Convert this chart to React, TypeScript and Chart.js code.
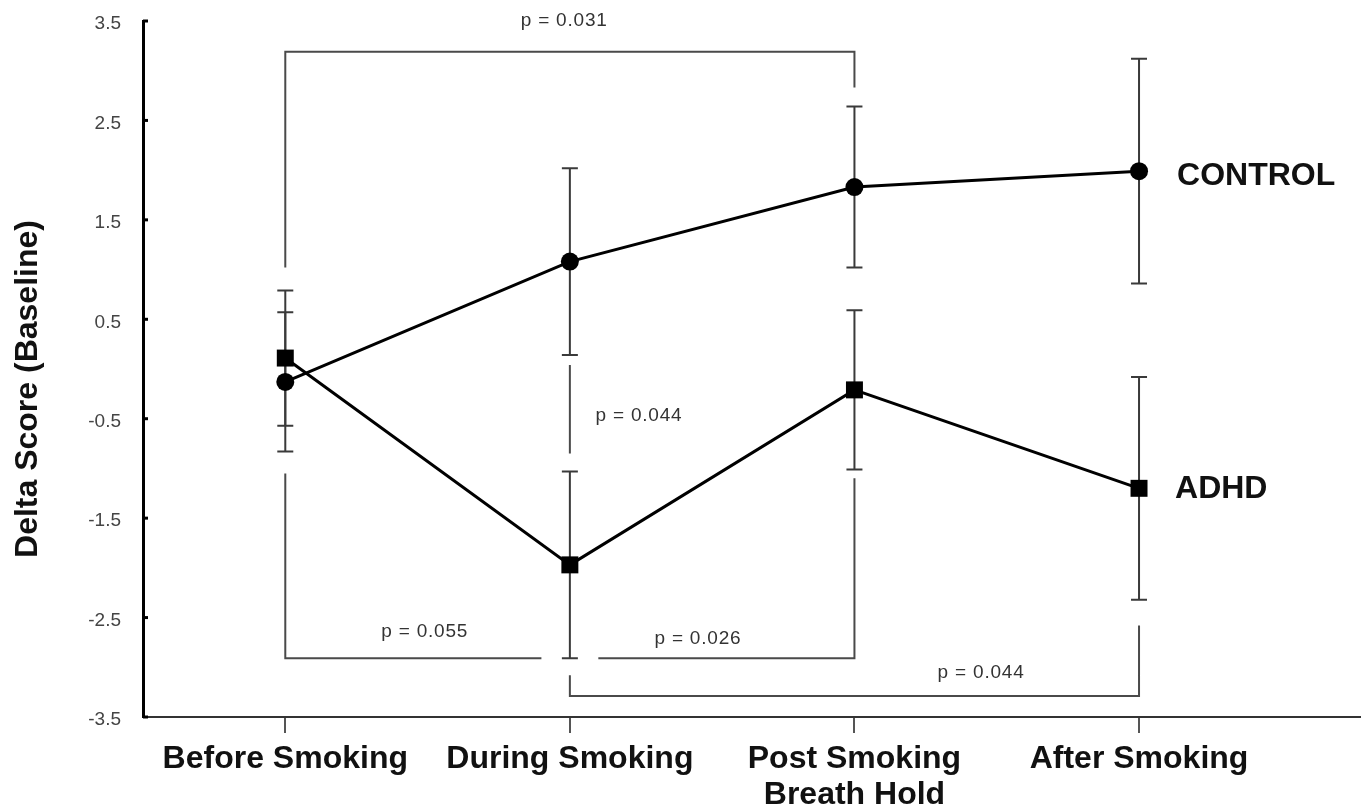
import React, { useEffect, useRef } from "react";
import { Chart, registerables } from "chart.js";

Chart.register(...registerables);

// ---- data ----
const categories: (string | string[])[] = [
  "Before Smoking",
  "During Smoking",
  ["Post Smoking", "Breath Hold"],
  "After Smoking",
];
const controlMean = [-0.13, 1.08, 1.83, 1.99];
const controlErr = [0.7, 0.94, 0.81, 1.13];
const adhdMean = [0.11, -1.97, -0.21, -1.2];
const adhdErr = [0.68, 0.94, 0.8, 1.12];
const yTicks = [-3.5, -2.5, -1.5, -0.5, 0.5, 1.5, 2.5, 3.5];
const seriesNames = ["CONTROL", "ADHD"];
const yTitle = "Delta Score (Baseline)";

// significance brackets, in data units (x = category index, y = score)
const bracketLabels = ["p = 0.031", "p = 0.055", "p = 0.026", "p = 0.044", "p = 0.044"];
const bracketPaths: number[][][] = [
  [[0, 1.02], [0, 3.19], [2, 3.19], [2, 2.83]],
  [[0, -1.05], [0, -2.91], [0.9, -2.91]],
  [[1.1, -2.91], [2, -2.91], [2, -1.1]],
  [[1, 0.04], [1, -0.85]],
  [[1, -3.08], [1, -3.29], [3, -3.29], [3, -2.58]],
];
const bracketTextAt: number[][] = [
  [0.98, 3.5],
  [0.49, -2.64],
  [1.45, -2.71],
  [1.09, -0.47],
  [2.445, -3.06],
];
const bracketTextAlign: CanvasTextAlign[] = ["center", "center", "center", "left", "center"];

const BOLD = "bold 32px 'Liberation Sans', Arial, sans-serif";
const SMALL = "19px 'Liberation Sans', Arial, sans-serif";

const overlay = {
  id: "overlay",
  beforeDatasetsDraw(chart: any) {
    const { ctx, scales } = chart;
    const x = scales.x;
    const y = scales.y;
    ctx.save();
    // error bars
    const groups: [number[], number[]][] = [
      [controlMean, controlErr],
      [adhdMean, adhdErr],
    ];
    ctx.strokeStyle = "#3a3a3a";
    ctx.lineWidth = 2;
    groups.forEach(([m, e]) => {
      m.forEach((v, i) => {
        const px = x.getPixelForValue(i);
        const top = y.getPixelForValue(v + e[i]);
        const bot = y.getPixelForValue(v - e[i]);
        ctx.beginPath();
        ctx.moveTo(px, top);
        ctx.lineTo(px, bot);
        ctx.moveTo(px - 8, top);
        ctx.lineTo(px + 8, top);
        ctx.moveTo(px - 8, bot);
        ctx.lineTo(px + 8, bot);
        ctx.stroke();
      });
    });
    // brackets
    ctx.strokeStyle = "#4a4a4a";
    ctx.lineWidth = 2;
    bracketPaths.forEach((path) => {
      ctx.beginPath();
      path.forEach(([vx, vy], k) => {
        const px = x.getPixelForValue(vx);
        const py = y.getPixelForValue(vy);
        if (k === 0) ctx.moveTo(px, py);
        else ctx.lineTo(px, py);
      });
      ctx.stroke();
    });
    ctx.fillStyle = "#333";
    ctx.font = SMALL;
    (ctx as any).letterSpacing = "0.8px";
    ctx.textBaseline = "middle";
    bracketLabels.forEach((t, i) => {
      ctx.textAlign = bracketTextAlign[i];
      ctx.fillText(t, x.getPixelForValue(bracketTextAt[i][0]), y.getPixelForValue(bracketTextAt[i][1]));
    });
    ctx.restore();
  },
  afterDraw(chart: any) {
    const { ctx, scales } = chart;
    const x = scales.x;
    const y = scales.y;
    ctx.save();
    // inner y tick nubs
    ctx.strokeStyle = "#000";
    ctx.lineWidth = 3;
    yTicks.forEach((v) => {
      const py = y.getPixelForValue(v);
      ctx.beginPath();
      ctx.moveTo(x.left, py);
      ctx.lineTo(x.left + 5, py);
      ctx.stroke();
    });
    // series labels
    ctx.fillStyle = "#111";
    ctx.font = BOLD;
    ctx.textAlign = "left";
    ctx.textBaseline = "middle";
    const last = categories.length - 1;
    ctx.fillText(seriesNames[0], x.getPixelForValue(last) + 38, y.getPixelForValue(controlMean[last]) + 5);
    ctx.fillText(seriesNames[1], x.getPixelForValue(last) + 36, y.getPixelForValue(adhdMean[last]) + 1);
    // y title
    ctx.translate(28, (y.top + y.bottom) / 2 + 20);
    ctx.rotate(-Math.PI / 2);
    ctx.textAlign = "center";
    ctx.fillText(yTitle, 0, 0);
    ctx.restore();
  },
};

export default function App() {
  const ref = useRef<HTMLCanvasElement | null>(null);
  useEffect(() => {
    if (!ref.current) return;
    const chart = new Chart(ref.current, {
      type: "line",
      data: {
        datasets: [
          {
            label: seriesNames[0],
            data: controlMean.map((v, i) => ({ x: i, y: v })),
            borderColor: "#000",
            backgroundColor: "#000",
            borderWidth: 3,
            pointStyle: "circle",
            pointRadius: 9,
            pointBorderWidth: 0,
            tension: 0,
          },
          {
            label: seriesNames[1],
            data: adhdMean.map((v, i) => ({ x: i, y: v })),
            borderColor: "#000",
            backgroundColor: "#000",
            borderWidth: 3,
            pointStyle: "rect",
            pointRadius: 12,
            pointBorderWidth: 0,
            tension: 0,
          },
        ],
      },
      options: {
        responsive: false,
        animation: false,
        layout: { autoPadding: false, padding: { top: 21, left: 0, right: 0, bottom: 0 } },
        plugins: { legend: { display: false }, tooltip: { enabled: false } },
        scales: {
          x: {
            type: "linear",
            min: -0.5,
            max: 3.78,
            afterFit: (s: any) => {
              s.height = 95;
              s.paddingLeft = 0;
              s.paddingRight = 0;
              s.paddingTop = 0;
              s.paddingBottom = 0;
            },
            afterBuildTicks: (s: any) => {
              s.ticks = categories.map((_, i) => ({ value: i }));
            },
            grid: {
              display: true,
              drawOnChartArea: false,
              drawTicks: true,
              tickLength: 16,
              color: "#555",
              lineWidth: 2,
            },
            border: { display: true, color: "#333", width: 2 },
            ticks: {
              autoSkip: false,
              maxRotation: 0,
              padding: 8,
              color: "#111",
              font: { family: "'Liberation Sans', Arial, sans-serif", size: 32, weight: "bold", lineHeight: 1.125 },
              callback: (v: any) => categories[Math.round(Number(v))] as any,
            },
          },
          y: {
            type: "linear",
            min: -3.5,
            max: 3.5,
            afterFit: (s: any) => {
              s.width = 143;
              s.paddingLeft = 0;
              s.paddingRight = 0;
              s.paddingTop = 0;
              s.paddingBottom = 0;
            },
            afterBuildTicks: (s: any) => {
              s.ticks = yTicks.map((v) => ({ value: v }));
            },
            grid: { display: false, drawTicks: false },
            border: { display: true, color: "#000", width: 3 },
            ticks: {
              padding: 22,
              labelOffset: 3,
              color: "#444",
              font: { family: "'Liberation Sans', Arial, sans-serif", size: 19 },
              callback: (v: any) => Number(v).toFixed(1),
            },
          },
        },
      },
      plugins: [overlay],
    } as any);
    return () => chart.destroy();
  }, []);
  return (
    <div style={{ position: "absolute", left: 0, top: 0, width: 1361, height: 812, background: "#fff" }}>
      <canvas ref={ref} width={1361} height={812} style={{ display: "block" }} />
    </div>
  );
}
